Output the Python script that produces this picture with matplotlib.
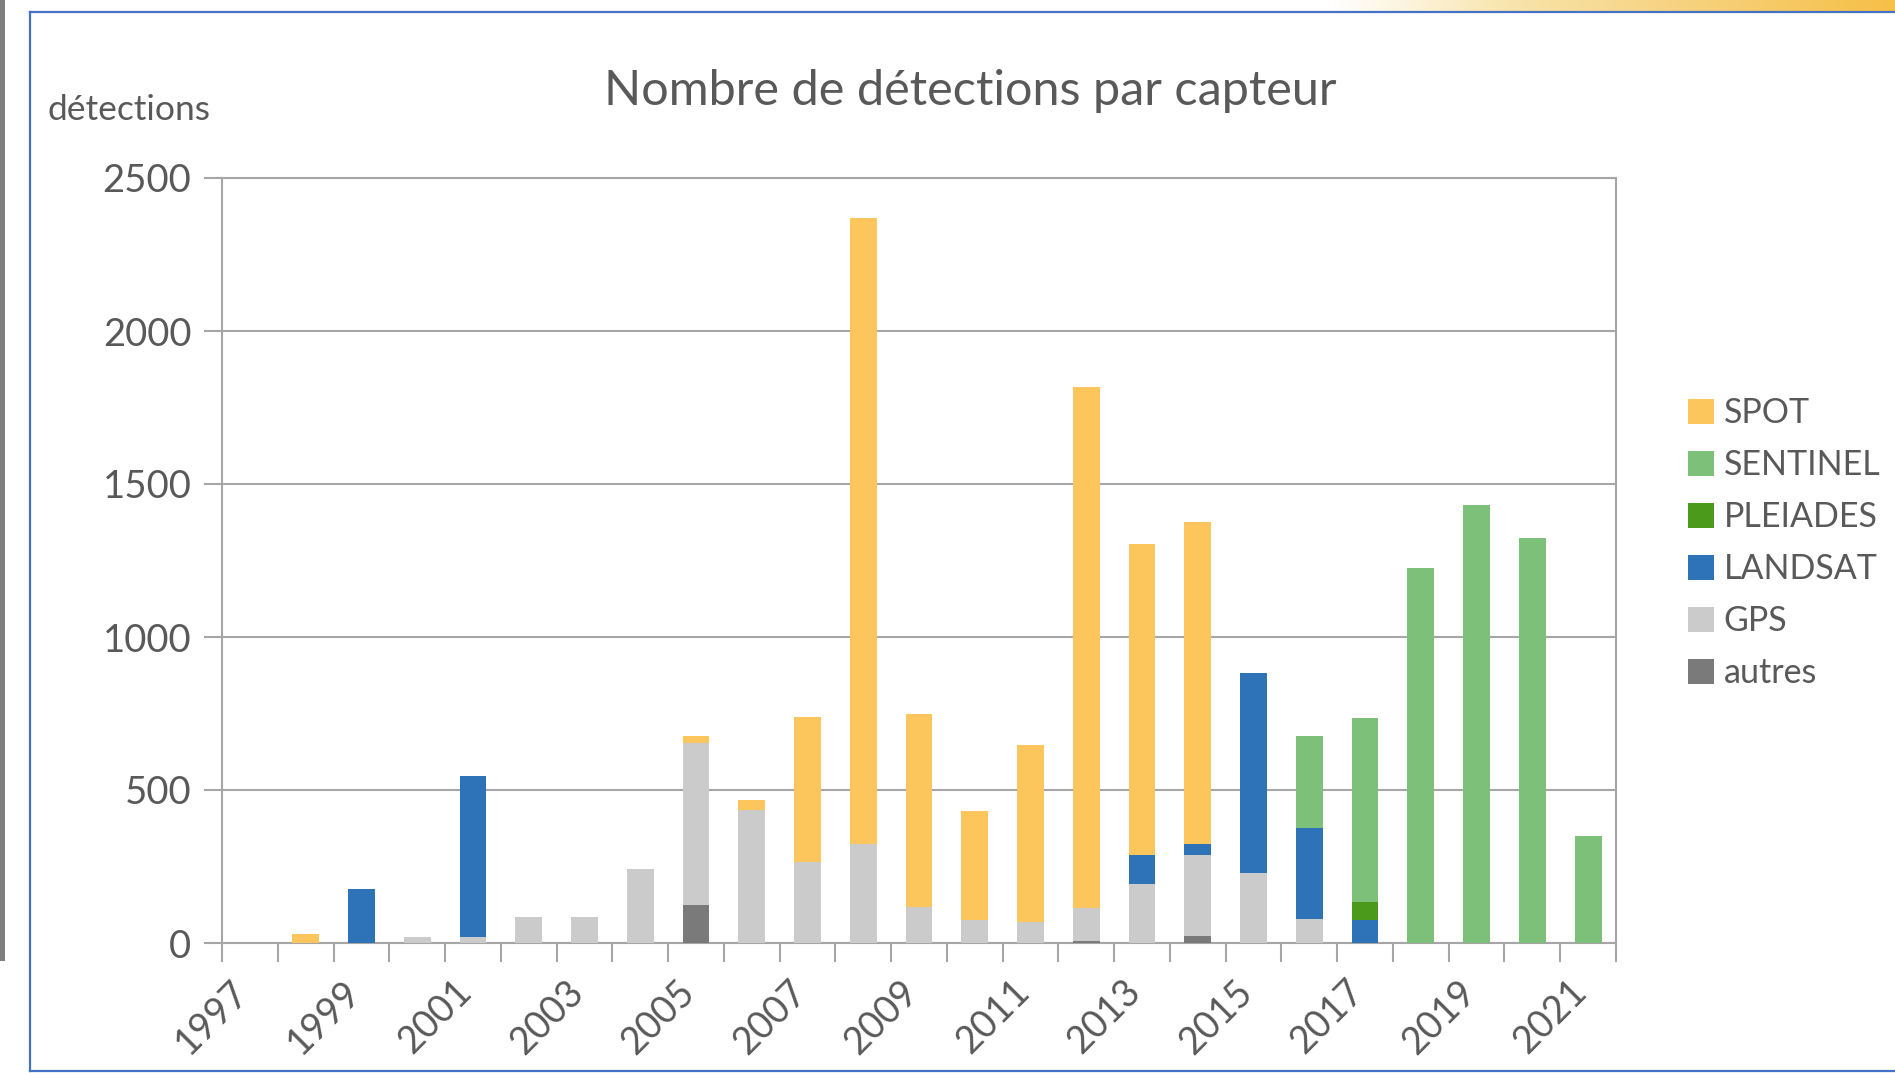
import matplotlib.pyplot as plt
import numpy as np
from matplotlib.colors import LinearSegmentedColormap
from matplotlib.transforms import ScaledTranslation

plt.rcParams['font.family'] = ['Lato', 'DejaVu Sans']

# data (détections par capteur et par année)
years = list(range(1997, 2022))
autres = [0, 0, 0, 0, 0, 0, 0, 0, 123, 0, 0, 0, 0, 0, 0, 8, 0, 22, 0, 0, 0, 0, 0, 0, 0]
gps = [0, 0, 0, 20, 20, 85, 85, 243, 530, 435, 265, 325, 118, 75, 70, 105, 194, 265, 229, 80, 0, 0, 0, 0, 0]
landsat = [0, 0, 175, 0, 525, 0, 0, 0, 0, 0, 0, 0, 0, 0, 0, 0, 93, 36, 654, 295, 74, 0, 0, 0, 0]
pleiades = [0, 0, 0, 0, 0, 0, 0, 0, 0, 0, 0, 0, 0, 0, 0, 0, 0, 0, 0, 0, 60, 0, 0, 0, 0]
sentinel = [0, 0, 0, 0, 0, 0, 0, 0, 0, 0, 0, 0, 0, 0, 0, 0, 0, 0, 0, 303, 601, 1225, 1430, 1325, 350]
spot = [0, 30, 0, 0, 0, 0, 0, 0, 24, 32, 473, 2044, 632, 355, 576, 1704, 1018, 1052, 0, 0, 0, 0, 0, 0, 0]

series = [
    ('autres', autres, '#7A7A7A'),
    ('GPS', gps, '#CBCBCB'),
    ('LANDSAT', landsat, '#2E72B8'),
    ('PLEIADES', pleiades, '#4C9A1C'),
    ('SENTINEL', sentinel, '#7DC07A'),
    ('SPOT', spot, '#FCC65C'),
]

W, H = 1895, 1073
fig = plt.figure(figsize=(W / 100, H / 100), dpi=100)
fig.patch.set_facecolor('white')

# frame decorations of the screenshot
deco = fig.add_axes([0, 0, 1, 1])
deco.set_xlim(0, W)
deco.set_ylim(H, 0)
deco.axis('off')
deco.fill_between([0, 5], 0, 961, color='#7F7F7F', lw=0)
grad = LinearSegmentedColormap.from_list('g', ['#FFFFFF', '#F8E3A8', '#F6D07A', '#F7C046'])
deco.imshow(np.linspace(0, 1, 200)[None, :], cmap=grad, extent=[1330, W, 11, 0], aspect='auto')
deco.plot([30, W], [12, 12], color='#4472C4', lw=1.6)
deco.plot([30, 30], [12, 1071], color='#4472C4', lw=1.6)
deco.plot([30, W], [1071, 1071], color='#4472C4', lw=1.6)

ax = fig.add_axes([222 / W, 130 / H, 1394 / W, 765 / H])
x = np.arange(len(years))
bottom = np.zeros(len(years))
handles = {}
for name, vals, color in series:
    vals = np.array(vals, dtype=float)
    handles[name] = ax.bar(x, vals, 0.48, bottom=bottom, color=color, label=name, zorder=3)
    bottom += vals

ax.set_xlim(-0.5, len(years) - 0.5)
ax.set_ylim(0, 2500)
ax.set_yticks(range(0, 2501, 500))
ax.yaxis.grid(True, color='#A6A6A6', lw=1.5)
ax.set_axisbelow(True)
for s in ax.spines.values():
    s.set_color('#A6A6A6')
    s.set_linewidth(1.5)

ax.set_xticks(x[::2])
ax.set_xticklabels([str(y) for y in years[::2]], rotation=45, ha='right')
ax.set_xticks(np.arange(-0.5, len(years), 1), minor=True)
ax.tick_params(axis='x', which='major', length=0, pad=22, labelsize=27, labelcolor='#595959')
ax.tick_params(axis='x', which='minor', length=13.5, width=1.5, color='#A6A6A6')
ax.tick_params(axis='y', length=13, width=1.5, color='#A6A6A6', pad=9, labelsize=27.5, labelcolor='#595959')
shift = ScaledTranslation(6 / 100, 0, fig.dpi_scale_trans)
for lbl in ax.get_xticklabels():
    lbl.set_transform(lbl.get_transform() + shift)

fig.text(970 / W, 1 - 91 / H, 'Nombre de détections par capteur', ha='center', va='center',
         fontsize=35, color='#595959')
fig.text(129 / W, 1 - 110 / H, 'détections', ha='center', va='center', fontsize=25.5, color='#595959')

order = ['SPOT', 'SENTINEL', 'PLEIADES', 'LANDSAT', 'GPS', 'autres']
fig.legend([handles[n] for n in order], order, loc='upper left',
           bbox_to_anchor=(1688 / W, 1 - 397 / H), frameon=False, fontsize=24.5,
           handlelength=0.75, handleheight=0.75, handletextpad=0.3, labelspacing=0.59,
           borderpad=0, borderaxespad=0, labelcolor='#595959')

fig.savefig('out.png', dpi=100)
